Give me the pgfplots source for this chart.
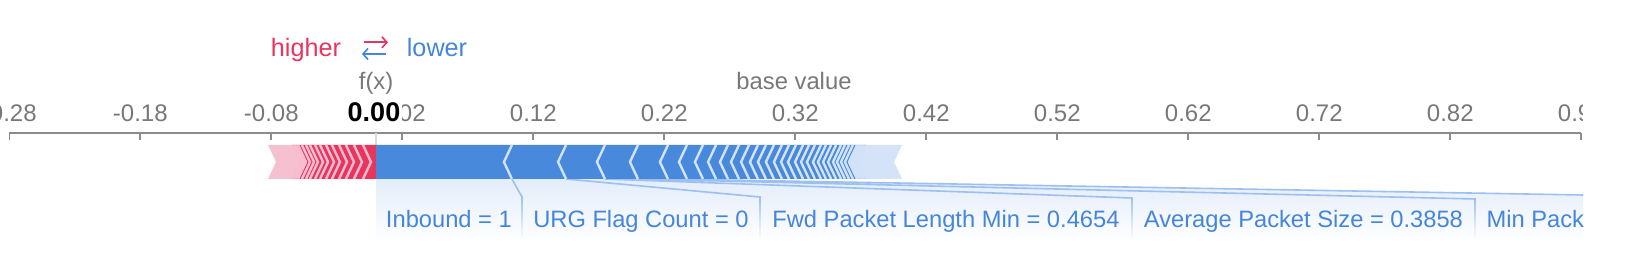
\documentclass[border=0pt]{standalone}
\usepackage{pgfplots}
\pgfplotsset{compat=1.18}
\usepackage{fontspec}
\setmainfont{Liberation Sans}
\usetikzlibrary{arrows.meta}
\definecolor{bluebar}{HTML}{4889DC}
\definecolor{redbar}{HTML}{E9345E}
\definecolor{pinktail}{HTML}{F5C1D1}
\definecolor{bluetail}{HTML}{D4E3F7}
\definecolor{chevb}{HTML}{D2E2F7}
\definecolor{chevr}{HTML}{F7BDCE}
\definecolor{labelc}{HTML}{4585DC}
\definecolor{connc}{HTML}{9CC0F0}
\definecolor{regionc}{HTML}{E3EDFA}
\definecolor{tickgray}{HTML}{787878}
\definecolor{axisgray}{HTML}{8C8C8C}
\begin{document}
\begin{tikzpicture}
\begin{axis}[at={(0,0)}, anchor=south west,
  width=822pt, height=69.5pt, scale only axis,
  xmin=-0.2871, xmax=0.9679, ymin=0, ymax=139,
  axis x line=top, axis y line=none,
  axis line style={draw=none},
  clip=false,
  xtick={-0.28,-0.18,-0.08,0.02,0.12,0.22,0.32,0.42,0.52,0.62,0.72,0.82,0.92},
  xticklabels={-0.28,-0.18,-0.08,0.02,0.12,0.22,0.32,0.42,0.52,0.62,0.72,0.82,0.92},
  xtick align=inside, major tick length=3.5pt,
  tick style={draw=axisgray, line width=0.8pt},
  xticklabel style={anchor=base, yshift=5.5pt, font=\fontsize{12}{13}\selectfont, text=tickgray},
  unbounded coords=jump,
]
% axis line
\addplot[draw=axisgray, line width=1pt] coordinates {(-0.28,139) (0.92,139)};
% label region
\addplot[draw=none, top color=regionc, bottom color=white] coordinates {(0,93) (0.2228,93) (0.9214,77) (0.9214,30) (0,30)} -- cycle;
% connectors
\addplot[draw=connc, line width=0.8pt] coordinates {(0.1037,93) (0.1114,75) (nan,nan) (0.1450,93) (0.2931,75) (nan,nan) (0.1747,93) (0.5770,74) (nan,nan) (0.1999,93) (0.8389,73) (nan,nan) (0.2228,93) (0.9214,77)};
\addplot[draw=none, top color=connc, bottom color=white] coordinates {(0.1108,75.5) (0.1120,75.5) (0.1120,32) (0.1108,32)} -- cycle;
\addplot[draw=none, top color=connc, bottom color=white] coordinates {(0.2925,75.5) (0.2937,75.5) (0.2937,32) (0.2925,32)} -- cycle;
\addplot[draw=none, top color=connc, bottom color=white] coordinates {(0.5764,74.5) (0.5776,74.5) (0.5776,32) (0.5764,32)} -- cycle;
\addplot[draw=none, top color=connc, bottom color=white] coordinates {(0.8383,73.5) (0.8395,73.5) (0.8395,32) (0.8383,32)} -- cycle;
% f(x) line
\addplot[draw=black!15, line width=0.8pt] coordinates {(0,139) (0,127)};
% red bar
\addplot[fill=pinktail, draw=none] coordinates {(-0.0825,127) (-0.0642,127) (-0.0581,110) (-0.0642,93) (-0.0825,93) (-0.0764,110)} -- cycle;
\addplot[fill=redbar, draw=none] coordinates {(-0.0642,127) (0,127) (0,93) (-0.0642,93) (-0.0581,110)} -- cycle;
\addplot[draw=chevr, line width=1.2pt] coordinates {
(-0.0100,127) (-0.0039,110) (-0.0100,93) (nan,nan)
(-0.0169,127) (-0.0108,110) (-0.0169,93) (nan,nan)
(-0.0230,127) (-0.0169,110) (-0.0230,93) (nan,nan)
(-0.0283,127) (-0.0222,110) (-0.0283,93) (nan,nan)
(-0.0337,127) (-0.0276,110) (-0.0337,93) (nan,nan)
(-0.0382,127) (-0.0321,110) (-0.0382,93) (nan,nan)
(-0.0428,127) (-0.0367,110) (-0.0428,93) (nan,nan)
(-0.0466,127) (-0.0405,110) (-0.0466,93) (nan,nan)
(-0.0505,127) (-0.0444,110) (-0.0505,93) (nan,nan)
(-0.0535,127) (-0.0474,110) (-0.0535,93) (nan,nan)
(-0.0566,127) (-0.0505,110) (-0.0566,93) (nan,nan)
(-0.0596,127) (-0.0535,110) (-0.0596,93) (nan,nan)
(-0.0619,127) (-0.0558,110) (-0.0619,93) (nan,nan)
(-0.0642,127) (-0.0581,110) (-0.0642,93)};
% blue bar
\addplot[fill=bluetail, draw=none] coordinates {(0.3740,127) (0.4015,127) (0.3954,110) (0.4015,93) (0.3740,93) (0.3679,110)} -- cycle;
\addplot[fill=bluebar, draw=none] coordinates {(0,127) (0.3740,127) (0.3679,110) (0.3740,93) (0,93)} -- cycle;
\addplot[draw=chevb, line width=1.2pt] coordinates {
(0.1037,127) (0.0976,110) (0.1037,93) (nan,nan)
(0.1450,127) (0.1389,110) (0.1450,93) (nan,nan)
(0.1747,127) (0.1686,110) (0.1747,93) (nan,nan)
(0.1999,127) (0.1938,110) (0.1999,93) (nan,nan)
(0.2228,127) (0.2167,110) (0.2228,93) (nan,nan)
(0.2373,127) (0.2312,110) (0.2373,93) (nan,nan)
(0.2495,127) (0.2434,110) (0.2495,93) (nan,nan)
(0.2595,127) (0.2534,110) (0.2595,93) (nan,nan)
(0.2686,127) (0.2625,110) (0.2686,93) (nan,nan)
(0.2770,127) (0.2709,110) (0.2770,93) (nan,nan)
(0.2847,127) (0.2786,110) (0.2847,93) (nan,nan)
(0.2915,127) (0.2854,110) (0.2915,93) (nan,nan)
(0.2976,127) (0.2915,110) (0.2976,93) (nan,nan)
(0.3037,127) (0.2976,110) (0.3037,93) (nan,nan)
(0.3098,127) (0.3037,110) (0.3098,93) (nan,nan)
(0.3152,127) (0.3091,110) (0.3152,93) (nan,nan)
(0.3205,127) (0.3144,110) (0.3205,93) (nan,nan)
(0.3259,127) (0.3198,110) (0.3259,93) (nan,nan)
(0.3305,127) (0.3244,110) (0.3305,93) (nan,nan)
(0.3350,127) (0.3289,110) (0.3350,93) (nan,nan)
(0.3396,127) (0.3335,110) (0.3396,93) (nan,nan)
(0.3434,127) (0.3373,110) (0.3434,93) (nan,nan)
(0.3473,127) (0.3412,110) (0.3473,93) (nan,nan)
(0.3511,127) (0.3450,110) (0.3511,93) (nan,nan)
(0.3549,127) (0.3488,110) (0.3549,93) (nan,nan)
(0.3579,127) (0.3518,110) (0.3579,93) (nan,nan)
(0.3610,127) (0.3549,110) (0.3610,93) (nan,nan)
(0.3640,127) (0.3579,110) (0.3640,93) (nan,nan)
(0.3671,127) (0.3610,110) (0.3671,93) (nan,nan)
(0.3694,127) (0.3633,110) (0.3694,93) (nan,nan)
(0.3717,127) (0.3656,110) (0.3717,93) (nan,nan)
(0.3740,127) (0.3679,110) (0.3740,93)};
% feature labels
\node[anchor=base, font=\fontsize{11.85}{14}\selectfont, text=labelc] at (axis cs:0.0556,44) {Inbound = 1};
\node[anchor=base, font=\fontsize{11.85}{14}\selectfont, text=labelc] at (axis cs:0.2022,44) {URG Flag Count = 0};
\node[anchor=base, font=\fontsize{11.85}{14}\selectfont, text=labelc] at (axis cs:0.4350,44) {Fwd Packet Length Min = 0.4654};
\node[anchor=base, font=\fontsize{11.85}{14}\selectfont, text=labelc] at (axis cs:0.7079,44) {Average Packet Size = 0.3858};
\node[anchor=base west, inner xsep=0pt, font=\fontsize{11.85}{14}\selectfont, text=labelc] at (axis cs:0.8474,44) {Min Pack};
% header texts
\node[anchor=base, font=\fontsize{12.6}{14}\selectfont, text=redbar] at (axis cs:-0.0535,215) {higher};
\node[anchor=base, font=\fontsize{12.6}{14}\selectfont, text=labelc] at (axis cs:0.0465,215) {lower};
\draw[redbar, line width=0.8pt, -{Straight Barb[length=2.5pt,width=5.5pt]}] (axis cs:-0.0092,229.7) -- (axis cs:0.0091,229.7);
\draw[labelc, line width=0.8pt, -{Straight Barb[length=2.5pt,width=5.5pt]}] (axis cs:0.0075,218) -- (axis cs:-0.0108,218);
\node[anchor=base, font=\fontsize{11.9}{14}\selectfont, text=tickgray] at (axis cs:0,182.5) {f(x)};
\node[anchor=base, font=\fontsize{11.9}{14}\selectfont, text=tickgray] at (axis cs:0.3190,182.5) {base value};
\coordinate (fxval) at (axis cs:-0.0016,150);
\end{axis}
\node[anchor=base, fill=white, inner xsep=1pt, inner ysep=1pt, font=\fontsize{13.5}{15}\selectfont\bfseries] at (fxval) {0.00};
\fill[white] (791.6pt,70.6pt) rectangle (822pt,90pt);
\pgfresetboundingbox
\path[use as bounding box] (0,0) rectangle (822pt,136pt);
\end{tikzpicture}
\end{document}
